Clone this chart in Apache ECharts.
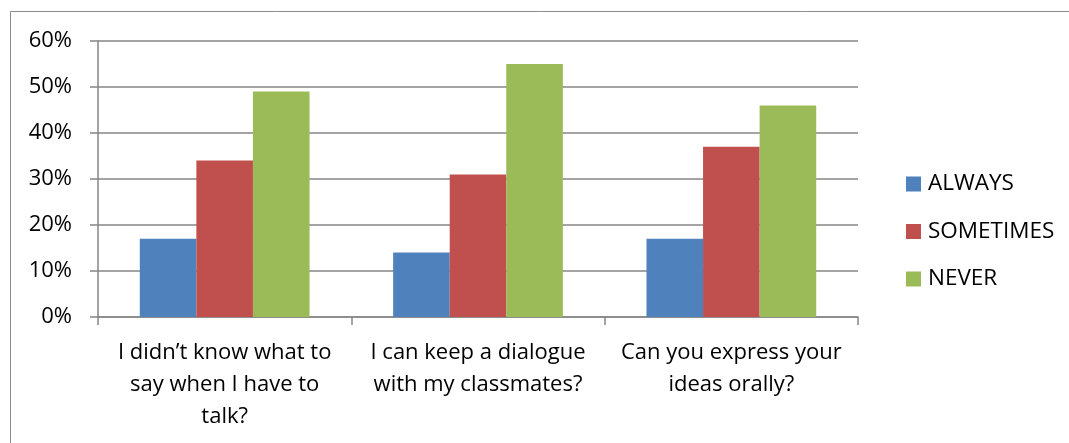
<!DOCTYPE html>
<html><head><meta charset="utf-8">
<script src="https://cdn.jsdelivr.net/npm/echarts@6/dist/echarts.min.js"></script>
<style>html,body{margin:0;padding:0;background:#fff}#c{width:1069px;height:443px}</style>
</head><body><div id="c"></div>
<script>
var categories = ["I didn\u2019t know what to\nsay when I have to\ntalk?", "I can keep a dialogue\nwith my classmates?", "Can you express your\nideas orally?"];
var always = [17, 14, 17];
var sometimes = [34, 31, 37];
var never = [49, 55, 46];
var seriesNames = ["ALWAYS", "SOMETIMES", "NEVER"];
var yTicks = [0, 10, 20, 30, 40, 50, 60];

var FONT = "Open Sans";
var chart = echarts.init(document.getElementById('c'), null, {renderer: 'canvas'});
var gray = '#868686';
chart.setOption({
  animation: false,
  graphic: [{type: 'rect', shape: {x: 10.5, y: 11.5, width: 1070, height: 450}, style: {fill: 'none', stroke: '#8c8c8c', lineWidth: 1}}],
  color: ['#4F81BD', '#C0504D', '#9BBB59'],
  legend: {
    orient: 'vertical', left: 901, top: 167, itemGap: 23.5, itemWidth: 15, itemHeight: 15,
    icon: 'rect',
    textStyle: {fontFamily: FONT, fontSize: 22.5, lineHeight: 24, color: '#000', padding: [0,0,0,2]},
    data: seriesNames
  },
  grid: {left: 98, top: 41, right: 211, bottom: 126, containLabel: false},
  xAxis: {
    type: 'category', data: categories,
    axisLine: {lineStyle: {color: gray, width: 1.5}},
    axisTick: {show: true, length: 8, lineStyle: {color: gray, width: 1.5}},
    axisLabel: {fontFamily: FONT, fontSize: 22, color: '#000', lineHeight: 32, margin: 20, interval: 0}
  },
  yAxis: {
    type: 'value', min: 0, max: 60, interval: 10,
    axisLine: {show: true, lineStyle: {color: gray, width: 1.5}},
    axisTick: {show: true, length: 8, lineStyle: {color: gray, width: 1.5}},
    splitLine: {lineStyle: {color: gray, width: 1.5}},
    axisLabel: {fontFamily: FONT, fontSize: 22, color: '#000', margin: 26, formatter: function(v){return v + '%';}}
  },
  series: [
    {name: seriesNames[0], type: 'bar', data: always, barGap: '0%', barCategoryGap: '33%'},
    {name: seriesNames[1], type: 'bar', data: sometimes, barGap: '0%', barCategoryGap: '33%'},
    {name: seriesNames[2], type: 'bar', data: never, barGap: '0%', barCategoryGap: '33%'}
  ]
});
</script></body></html>
